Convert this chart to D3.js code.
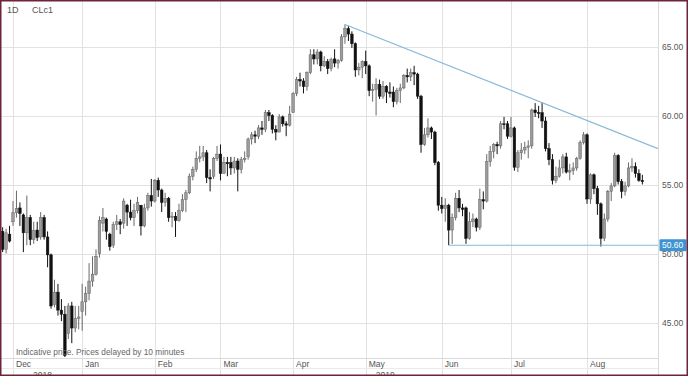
<!DOCTYPE html>
<html>
<head>
<meta charset="utf-8">
<script src="https://cdn.jsdelivr.net/npm/d3@7"></script>
<style>
body { margin: 0; background: #fff; }
text { font-family: "Liberation Sans", Arial, sans-serif; }
</style>
</head>
<body>
<svg></svg>
<script>
var width = 688;
var height = 376;
var plotRight = 658;
var plotBottom = 358;

// trading days, Nov 28 2018 .. Aug 23 2019
var days = [
"2018-11-28","2018-11-29","2018-11-30",
"2018-12-03","2018-12-04","2018-12-05","2018-12-06","2018-12-07","2018-12-10","2018-12-11","2018-12-12","2018-12-13","2018-12-14",
"2018-12-17","2018-12-18","2018-12-19","2018-12-20","2018-12-21","2018-12-24","2018-12-26","2018-12-27","2018-12-28","2018-12-31",
"2019-01-02","2019-01-03","2019-01-04","2019-01-07","2019-01-08","2019-01-09","2019-01-10","2019-01-11","2019-01-14","2019-01-15",
"2019-01-16","2019-01-17","2019-01-18","2019-01-22","2019-01-23","2019-01-24","2019-01-25","2019-01-28","2019-01-29","2019-01-30","2019-01-31",
"2019-02-01","2019-02-04","2019-02-05","2019-02-06","2019-02-07","2019-02-08","2019-02-11","2019-02-12","2019-02-13","2019-02-14",
"2019-02-15","2019-02-19","2019-02-20","2019-02-21","2019-02-22","2019-02-25","2019-02-26","2019-02-27","2019-02-28",
"2019-03-01","2019-03-04","2019-03-05","2019-03-06","2019-03-07","2019-03-08","2019-03-11","2019-03-12","2019-03-13","2019-03-14",
"2019-03-15","2019-03-18","2019-03-19","2019-03-20","2019-03-21","2019-03-22","2019-03-25","2019-03-26","2019-03-27","2019-03-28","2019-03-29",
"2019-04-01","2019-04-02","2019-04-03","2019-04-04","2019-04-05","2019-04-08","2019-04-09","2019-04-10","2019-04-11","2019-04-12",
"2019-04-15","2019-04-16","2019-04-17","2019-04-18","2019-04-22","2019-04-23","2019-04-24","2019-04-25","2019-04-26","2019-04-29","2019-04-30",
"2019-05-01","2019-05-02","2019-05-03","2019-05-06","2019-05-07","2019-05-08","2019-05-09","2019-05-10","2019-05-13","2019-05-14",
"2019-05-15","2019-05-16","2019-05-17","2019-05-20","2019-05-21","2019-05-22","2019-05-23","2019-05-24","2019-05-28","2019-05-29","2019-05-30","2019-05-31",
"2019-06-03","2019-06-04","2019-06-05","2019-06-06","2019-06-07","2019-06-10","2019-06-11","2019-06-12","2019-06-13","2019-06-14",
"2019-06-17","2019-06-18","2019-06-19","2019-06-20","2019-06-21","2019-06-24","2019-06-25","2019-06-26","2019-06-27","2019-06-28",
"2019-07-01","2019-07-02","2019-07-03","2019-07-05","2019-07-08","2019-07-09","2019-07-10","2019-07-11","2019-07-12","2019-07-15",
"2019-07-16","2019-07-17","2019-07-18","2019-07-19","2019-07-22","2019-07-23","2019-07-24","2019-07-25","2019-07-26","2019-07-29","2019-07-30","2019-07-31",
"2019-08-01","2019-08-02","2019-08-05","2019-08-06","2019-08-07","2019-08-08","2019-08-09","2019-08-12","2019-08-13","2019-08-14",
"2019-08-15","2019-08-16","2019-08-19","2019-08-20","2019-08-21","2019-08-22","2019-08-23"
];

var open = [
51.6,50.3,51.4,
52.3,52.95,53.3,52.8,51.5,52.6,51.0,51.7,51.2,52.6,
51.2,49.9,46.3,47.2,45.9,45.6,44.2,46.2,44.6,45.3,
45.8,46.5,47.1,48.0,48.5,50.0,52.2,52.5,51.4,50.6,
52.1,52.3,52.2,53.5,53.0,52.6,53.1,53.5,52.0,53.3,54.2,
53.8,55.3,54.6,53.7,54.0,52.6,52.7,52.4,53.1,53.9,
54.4,55.6,56.1,56.9,57.0,57.3,55.5,55.6,56.9,
57.2,55.8,56.6,56.6,56.2,56.7,56.1,56.8,57.0,58.3,
58.6,58.5,59.1,59.0,60.2,60.0,59.0,58.8,59.9,59.4,59.3,
60.2,61.6,62.6,62.5,62.1,63.1,64.4,64.1,64.6,63.6,
63.9,63.4,64.1,63.8,64.0,65.7,66.3,65.9,65.2,63.3,63.5,
63.9,63.6,61.8,61.9,62.25,61.4,62.1,61.7,61.7,61.0,
61.8,62.0,62.9,62.8,63.1,63.0,61.4,57.9,58.6,59.1,58.8,56.6,
53.5,53.25,53.5,51.7,52.6,54.0,53.3,53.3,51.1,52.3,
52.5,51.9,53.9,53.8,56.65,57.4,57.9,57.8,59.4,59.4,
58.5,59.1,56.25,57.3,57.5,57.7,57.8,60.4,60.2,60.2,
59.6,57.6,56.8,55.3,55.6,56.2,57.0,55.9,56.0,56.2,56.9,58.05,
58.6,53.95,55.7,54.7,53.6,51.1,52.5,54.5,54.9,57.1,
55.2,54.5,54.9,56.2,56.3,55.8,55.3
];

var high = [
51.9,51.8,52.0,
53.8,54.55,53.7,52.9,54.2,52.8,52.3,52.3,53.0,52.8,
51.6,50.0,48.1,47.8,46.7,46.2,46.4,46.5,46.2,46.2,
47.8,47.6,49.3,49.8,50.3,52.7,53.3,52.6,51.5,52.3,
52.8,52.5,54.0,53.6,53.9,53.6,54.1,53.5,53.6,54.4,55.4,
55.4,55.5,54.7,54.4,54.1,53.0,53.0,53.6,54.3,54.6,
55.8,56.3,57.4,57.8,57.8,57.5,56.1,57.0,57.8,
57.9,57.0,57.0,57.0,57.0,56.9,57.0,57.4,58.4,58.8,
58.9,59.3,59.6,60.4,60.4,60.1,59.3,60.1,60.0,59.6,60.7,
61.7,62.8,63.1,62.7,63.2,64.8,64.8,64.8,64.7,64.3,
64.1,64.2,64.8,64.1,65.9,66.6,66.5,66.1,65.3,63.8,64.0,
64.7,63.7,62.3,62.7,62.6,62.5,62.2,62.4,62.1,62.0,
62.3,63.0,63.4,63.4,63.6,63.1,61.5,59.1,59.8,59.2,58.9,56.7,
54.1,54.0,53.6,52.9,54.4,54.6,53.6,53.4,53.0,52.9,
52.6,54.7,54.5,57.2,57.8,58.0,58.1,59.6,59.9,59.6,
59.9,59.2,57.5,58.0,58.1,58.2,60.5,60.9,60.7,60.9,
59.9,58.0,57.2,56.3,56.8,57.2,57.3,56.5,56.6,57.0,58.2,58.8,
58.7,55.8,55.8,54.9,53.7,52.9,54.6,55.1,57.3,57.2,
55.4,55.2,56.6,56.9,56.6,56.1,55.7
];

var low = [
50.1,50.0,50.8,
52.0,52.6,52.0,50.1,50.6,50.6,50.7,50.9,51.0,51.0,
49.0,46.0,46.1,45.5,45.1,42.5,43.8,43.5,44.3,44.5,
44.4,45.5,46.6,47.6,48.4,49.7,51.6,51.0,50.2,50.4,
51.7,51.4,51.8,52.0,52.4,52.0,52.9,51.3,51.9,53.1,53.4,
53.7,54.1,53.0,53.4,52.3,51.9,51.2,52.3,53.0,53.0,
54.3,55.3,55.9,56.6,56.7,55.1,54.5,55.4,56.7,
55.3,55.8,55.6,55.7,55.8,54.5,55.8,56.6,56.8,57.9,
58.0,58.3,58.6,58.8,59.6,58.7,58.2,58.8,59.2,58.5,59.2,
60.2,61.4,62.1,61.6,61.8,63.0,63.7,63.7,63.2,63.5,
63.0,63.2,63.5,63.4,63.9,65.2,65.4,64.9,62.8,62.9,62.7,
63.0,61.4,61.0,60.0,61.2,61.2,60.9,61.3,60.6,60.8,
60.9,61.9,62.4,62.5,62.2,61.2,57.3,57.8,58.4,58.3,56.4,53.1,
52.9,52.3,50.6,50.7,52.4,53.0,52.7,50.7,51.0,51.9,
51.6,51.7,53.2,53.7,56.3,56.9,57.2,57.6,59.0,58.3,
58.4,56.0,55.9,56.8,57.2,56.9,57.6,59.9,59.8,59.1,
57.4,56.4,55.0,55.1,55.5,55.8,55.8,55.3,55.7,56.0,56.8,57.9,
53.6,53.6,54.3,52.8,50.5,50.9,52.3,53.8,54.8,55.0,
54.0,54.2,54.8,55.9,55.5,55.2,55.0
];

var close = [
50.3,51.5,50.9,
52.95,53.25,52.9,51.5,52.6,51.0,51.65,51.15,52.6,51.2,
49.9,46.2,47.2,45.9,45.6,42.6,46.2,44.6,45.3,45.4,
46.5,47.1,48.0,48.5,49.8,52.4,52.6,51.6,50.5,52.1,
52.3,52.1,53.8,53.0,52.6,53.1,53.7,52.0,53.3,54.2,53.8,
55.3,54.6,53.7,54.0,52.6,52.7,52.4,53.1,53.9,54.4,
55.6,56.1,56.9,57.0,57.3,55.5,55.4,56.9,57.2,
55.8,56.6,56.5,56.2,56.7,56.1,56.8,56.9,58.3,58.6,
58.5,59.1,59.0,60.2,60.0,59.0,58.8,59.9,59.4,59.3,60.1,
61.6,62.6,62.5,62.1,63.1,64.4,64.1,64.6,63.6,63.9,
63.4,64.05,63.8,64.0,65.7,66.3,65.9,65.2,63.3,63.5,63.9,
63.6,61.8,61.9,62.25,61.4,62.1,61.7,61.6,61.0,61.8,
62.0,62.9,62.8,63.1,63.0,61.4,57.9,58.6,59.1,58.8,56.6,53.5,
53.25,53.5,51.7,52.6,54.0,53.3,53.2,51.1,52.3,52.5,
51.9,53.9,53.8,56.65,57.4,57.9,57.8,59.4,59.35,58.5,
59.1,56.25,57.3,57.5,57.7,57.8,60.4,60.2,60.15,59.6,
57.6,56.8,55.3,55.6,56.2,57.0,55.9,56.0,56.2,56.9,58.05,58.6,
53.95,55.7,54.7,53.6,51.1,52.5,54.5,54.9,57.1,55.2,
54.5,54.9,56.2,56.3,55.8,55.3,55.2
];

var priceTicks = [45, 50, 55, 60, 65];
var monthNames = ["Dec", "Jan", "Feb", "Mar", "Apr", "May", "Jun", "Jul", "Aug"];
var years = ["2018", "2019"];

// drawn lines: falling resistance from the April top, flat support at 50.60
var trendStart = { day: "2019-04-23", price: 66.6 };
var trendEndPrice = 57.6;
var support = { day: "2019-06-05", price: 50.6 };

var svg = d3.select("svg")
    .attr("width", width)
    .attr("height", height)
    .style("display", "block")
    .style("background", "#fff");

var step = 3.458;
var x0 = 13 - step * 3.5;   // Dec 3 sits on x = 13
var x = d3.scalePoint()
    .domain(days)
    .range([x0, x0 + step * days.length])
    .padding(0.5);

var y = d3.scaleLinear()
    .domain([45, 65])
    .range([322.5, 46.5]);

svg.append("defs").append("clipPath").attr("id", "plot")
    .append("rect").attr("x", 1).attr("y", 1).attr("width", plotRight - 1).attr("height", plotBottom - 1);

// Grid

var grid = svg.append("g").attr("id", "grid");

grid.selectAll(".hgrid")
    .data(priceTicks)
    .enter()
    .append("line")
    .attr("x1", 0).attr("x2", plotRight)
    .attr("y1", function(d) { return Math.round(y(d)) + 0.5; })
    .attr("y2", function(d) { return Math.round(y(d)) + 0.5; })
    .style("stroke", "#e2e2e2");

// first trading day of each month
var monthStarts = days.filter(function(d, i) {
    return i > 0 && days[i - 1].slice(5, 7) != d.slice(5, 7);
});

grid.selectAll(".vgrid")
    .data(monthStarts)
    .enter()
    .append("line")
    .attr("x1", function(d) { return Math.round(x(d)) + 0.5; })
    .attr("x2", function(d) { return Math.round(x(d)) + 0.5; })
    .attr("y1", 0).attr("y2", height)
    .style("stroke", "#e2e2e2");

grid.append("line")
    .attr("x1", 0).attr("x2", plotRight).attr("y1", plotBottom + 0.5).attr("y2", plotBottom + 0.5)
    .style("stroke", "#dadada");
grid.append("line")
    .attr("x1", 0).attr("x2", plotRight).attr("y1", plotBottom + 10.5).attr("y2", plotBottom + 10.5)
    .style("stroke", "#e6efe6");
grid.append("line")
    .attr("x1", plotRight + 0.5).attr("x2", plotRight + 0.5).attr("y1", 0).attr("y2", height)
    .style("stroke", "#dadada");

// Candles

var candles = svg.append("g").attr("id", "candles").attr("clip-path", "url(#plot)");

var bar = candles.selectAll("g")
    .data(days.map(function(d, i) {
        return { day: d, o: open[i], h: high[i], l: low[i], c: close[i] };
    }))
    .enter()
    .append("g");

bar.append("line")
    .attr("x1", function(d) { return x(d.day); })
    .attr("x2", function(d) { return x(d.day); })
    .attr("y1", function(d) { return y(d.h); })
    .attr("y2", function(d) { return y(d.l); })
    .style("stroke", function(d) { return d.c >= d.o ? "#6a6a6a" : "#111"; })
    .style("stroke-width", 1);

bar.append("rect")
    .attr("x", function(d) { return x(d.day) - 1.3; })
    .attr("width", 2.6)
    .attr("y", function(d) { return y(Math.max(d.o, d.c)); })
    .attr("height", function(d) { return Math.max(0.8, Math.abs(y(d.o) - y(d.c))); })
    .style("fill", function(d) { return d.c >= d.o ? "#9c9c9c" : "#111"; })
    .style("stroke", function(d) { return d.c >= d.o ? "#666" : "#111"; })
    .style("stroke-width", 0.5);

// Lines

var lines = svg.append("g").attr("id", "lines").attr("clip-path", "url(#plot)");

lines.append("line")
    .attr("x1", x(trendStart.day)).attr("y1", y(trendStart.price))
    .attr("x2", plotRight).attr("y2", y(trendEndPrice))
    .style("stroke", "#86b7d6").style("stroke-width", 1.1);

lines.append("line")
    .attr("x1", x(support.day)).attr("y1", y(support.price))
    .attr("x2", plotRight).attr("y2", y(support.price))
    .style("stroke", "#86b7d6").style("stroke-width", 1.1);

// Axis texts

var axis = svg.append("g").attr("id", "axis").style("font-size", "8.5px").style("fill", "#555");

axis.selectAll(".ylab")
    .data(priceTicks)
    .enter()
    .append("text")
    .attr("x", plotRight + 4)
    .attr("y", function(d) { return y(d) + 3; })
    .text(function(d) { return d3.format(".2f")(d); });

axis.append("rect")
    .attr("x", plotRight + 1.5).attr("y", y(support.price) - 6)
    .attr("width", 27).attr("height", 12)
    .attr("rx", 1)
    .style("fill", "#3f93d3");
axis.append("text")
    .attr("x", plotRight + 4).attr("y", y(support.price) + 3)
    .style("fill", "#fff")
    .text(d3.format(".2f")(support.price));

axis.selectAll(".xlab")
    .data(monthStarts)
    .enter()
    .append("text")
    .attr("x", function(d) { return x(d) + 3; })
    .attr("y", plotBottom + 8.5)
    .text(function(d, i) { return monthNames[i]; });

// year row, only its top shows above the frame
axis.append("text").attr("x", 33).attr("y", height + 2).text(years[0]);
axis.append("text").attr("x", x(monthStarts[5]) + 10).attr("y", height + 2).text(years[1]);

svg.append("text")
    .attr("x", 16).attr("y", plotBottom - 3)
    .style("font-size", "8.3px").style("fill", "#666")
    .text("Indicative price. Prices delayed by 10 minutes");

svg.append("text").attr("x", 7).attr("y", 13).style("font-size", "9px").style("fill", "#555").text("1D");
svg.append("text").attr("x", 32).attr("y", 13).style("font-size", "9px").style("fill", "#555").text("CLc1");

// Frame

svg.append("rect")
    .attr("x", 0.75).attr("y", 0.75)
    .attr("width", width - 1.5).attr("height", height - 1.5)
    .style("fill", "none")
    .style("stroke", "#6e2438")
    .style("stroke-width", 1.5);
</script>
</body>
</html>
